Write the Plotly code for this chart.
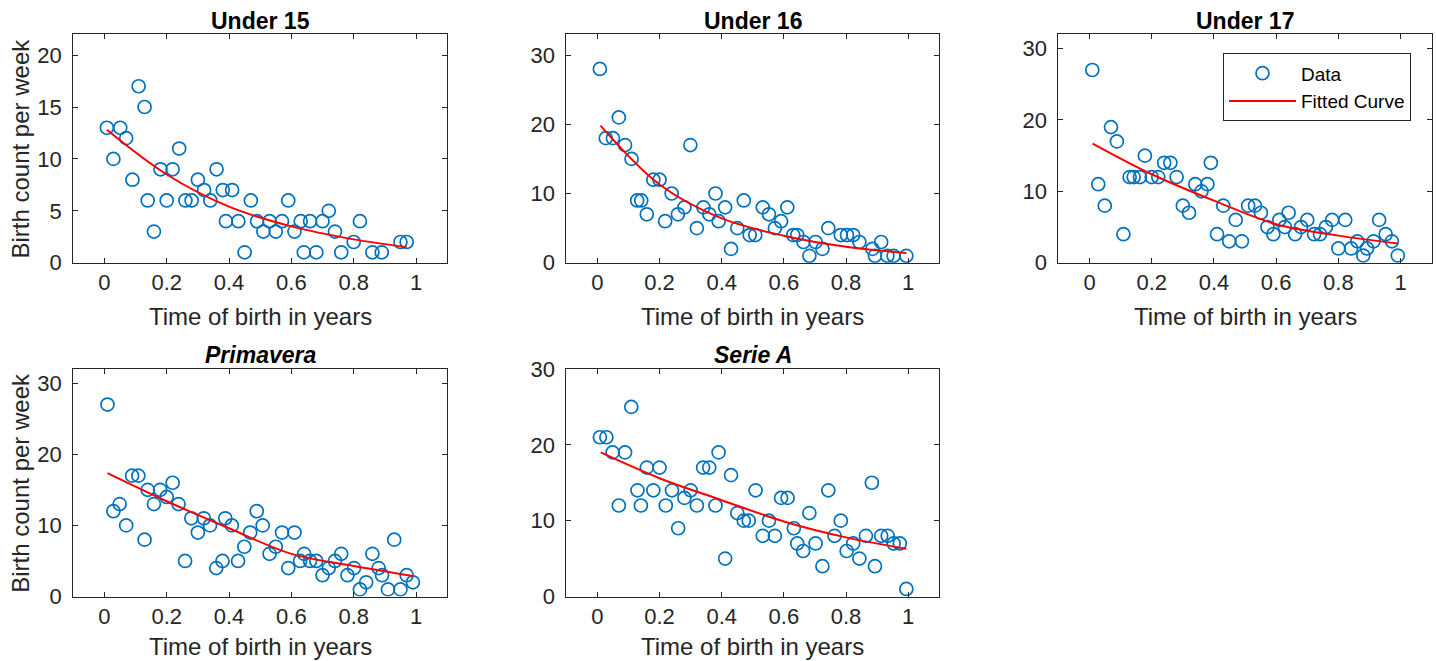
import plotly.graph_objects as go

# ---------------- data ----------------
u15_x = [0.008, 0.029, 0.051, 0.070, 0.090, 0.110, 0.129, 0.139, 0.159, 0.180, 0.200, 0.219,
         0.240, 0.260, 0.280, 0.300, 0.320, 0.340, 0.360, 0.380, 0.390, 0.410, 0.430, 0.450,
         0.470, 0.490, 0.510, 0.530, 0.550, 0.570, 0.590, 0.610, 0.630, 0.640, 0.660, 0.680,
         0.700, 0.720, 0.740, 0.760, 0.800, 0.820, 0.860, 0.890, 0.950, 0.970]
u15_y = [13, 10, 13, 12, 8, 17, 15, 6, 3, 9, 6, 9,
         11, 6, 6, 8, 7, 6, 9, 7, 4, 7, 4, 1,
         6, 4, 3, 4, 3, 4, 6, 3, 4, 1, 4, 1,
         4, 5, 3, 1, 2, 4, 1, 1, 2, 2]
u15_fit_x = [0.008, 0.2, 0.4, 0.6, 0.8, 0.970]
u15_fit_y = [12.8, 8.5, 5.4, 3.5, 2.25, 1.5]

u16_x = [0.008, 0.027, 0.050, 0.069, 0.089, 0.110, 0.128, 0.141, 0.159, 0.180, 0.200, 0.218,
         0.239, 0.259, 0.280, 0.299, 0.320, 0.341, 0.360, 0.380, 0.390, 0.411, 0.430, 0.450,
         0.471, 0.490, 0.508, 0.532, 0.552, 0.571, 0.591, 0.611, 0.630, 0.643, 0.663, 0.682,
         0.702, 0.724, 0.743, 0.783, 0.803, 0.823, 0.843, 0.885, 0.893, 0.913, 0.933, 0.953,
         0.994]
u16_y = [28, 18, 18, 21, 17, 15, 9, 9, 7, 12, 12, 6,
         10, 7, 8, 17, 5, 8, 7, 10, 6, 8, 2, 5,
         9, 4, 4, 8, 7, 5, 6, 8, 4, 4, 3, 1,
         3, 2, 5, 4, 4, 4, 3, 2, 1, 3, 1, 1,
         1]
u16_fit_x = [0.010, 0.2, 0.4, 0.6, 0.8, 0.994]
u16_fit_y = [19.8, 11.3, 6.4, 3.9, 2.3, 1.4]

u17_x = [0.009, 0.028, 0.049, 0.069, 0.088, 0.109, 0.129, 0.142, 0.162, 0.178, 0.200, 0.221,
         0.240, 0.260, 0.280, 0.300, 0.320, 0.340, 0.360, 0.379, 0.390, 0.410, 0.430, 0.449,
         0.470, 0.490, 0.510, 0.532, 0.551, 0.572, 0.591, 0.610, 0.628, 0.640, 0.661, 0.680,
         0.700, 0.722, 0.741, 0.760, 0.780, 0.800, 0.822, 0.841, 0.861, 0.880, 0.892, 0.913,
         0.931, 0.952, 0.972, 0.991]
u17_y = [27, 11, 8, 19, 17, 4, 12, 12, 12, 15, 12, 12,
         14, 14, 12, 8, 7, 11, 10, 11, 14, 4, 8, 3,
         6, 3, 8, 8, 7, 5, 4, 6, 5, 7, 4, 5,
         6, 4, 4, 5, 6, 2, 6, 2, 3, 1, 2, 3,
         6, 4, 3, 1]
u17_fit_x = [0.010, 0.2, 0.4, 0.6, 0.8, 0.991]
u17_fit_y = [16.7, 12.4, 8.7, 5.4, 3.8, 2.7]

pri_x = [0.010, 0.029, 0.049, 0.070, 0.089, 0.109, 0.129, 0.139, 0.159, 0.179, 0.200, 0.219,
         0.238, 0.259, 0.279, 0.300, 0.319, 0.339, 0.359, 0.379, 0.388, 0.409, 0.429, 0.449,
         0.468, 0.489, 0.508, 0.530, 0.550, 0.570, 0.590, 0.610, 0.628, 0.641, 0.660, 0.680,
         0.700, 0.720, 0.740, 0.760, 0.780, 0.801, 0.820, 0.840, 0.860, 0.880, 0.891, 0.910,
         0.930, 0.950, 0.970, 0.990]
pri_y = [27, 12, 13, 10, 17, 17, 8, 15, 13, 15, 14, 16,
         13, 5, 11, 9, 11, 10, 4, 5, 11, 10, 5, 7,
         9, 12, 10, 6, 7, 9, 4, 9, 5, 6, 5, 5,
         3, 4, 5, 6, 3, 4, 1, 2, 6, 4, 3, 1,
         8, 1, 3, 2]
pri_fit_x = [0.010, 0.2, 0.4, 0.6, 0.8, 0.990]
pri_fit_y = [17.35, 13.4, 9.6, 6.0, 4.3, 2.9]

sea_x = [0.008, 0.029, 0.049, 0.069, 0.089, 0.109, 0.129, 0.140, 0.159, 0.180, 0.200, 0.220,
         0.240, 0.260, 0.280, 0.300, 0.320, 0.340, 0.360, 0.380, 0.390, 0.411, 0.430, 0.450,
         0.471, 0.487, 0.509, 0.532, 0.552, 0.571, 0.591, 0.612, 0.632, 0.643, 0.662, 0.682,
         0.702, 0.724, 0.743, 0.763, 0.783, 0.802, 0.823, 0.843, 0.864, 0.883, 0.893, 0.913,
         0.934, 0.953, 0.973, 0.994]
sea_y = [21, 21, 19, 12, 19, 25, 14, 12, 17, 14, 17, 12,
         14, 9, 13, 14, 12, 17, 17, 12, 19, 5, 16, 11,
         10, 10, 14, 8, 10, 8, 13, 13, 9, 7, 6, 11,
         7, 4, 14, 8, 10, 6, 7, 5, 8, 15, 4, 8,
         8, 7, 7, 1]
sea_fit_x = [0.011, 0.2, 0.4, 0.6, 0.8, 0.994]
sea_fit_y = [19.0, 15.6, 12.7, 9.9, 7.8, 6.3]

titles = ["<b>Under 15</b>", "<b>Under 16</b>", "<b>Under 17</b>",
          "<b><i>Primavera</i></b>", "<b><i>Serie A</i></b>"]
y_max = [22, 33, 32, 32, 30]
y_ticks = [[0, 5, 10, 15, 20], [0, 10, 20, 30], [0, 10, 20, 30], [0, 10, 20, 30], [0, 10, 20, 30]]
x_ticks = [0, 0.2, 0.4, 0.6, 0.8, 1]
x_ticktext = ["0", "0.2", "0.4", "0.6", "0.8", "1"]

series = [(u15_x, u15_y, u15_fit_x, u15_fit_y),
          (u16_x, u16_y, u16_fit_x, u16_fit_y),
          (u17_x, u17_y, u17_fit_x, u17_fit_y),
          (pri_x, pri_y, pri_fit_x, pri_fit_y),
          (sea_x, sea_y, sea_fit_x, sea_fit_y)]

# ---------------- layout geometry (page pixels) ----------------
W, H = 1436, 661
col_px = [(73.2, 447.2), (566.3, 939.3), (1058.4, 1431.7)]
row_px = [(23.2, 260.6), (371.0, 607.5)]
xtitle_gap = [56, 52]
positions = [(0, 0), (0, 1), (0, 2), (1, 0), (1, 1)]

FONT = "Arial, 'Liberation Sans', Helvetica, sans-serif"
AX = "#262626"
BLUE = "#0072BD"

fig = go.Figure()
layout = dict(width=W, height=H, margin=dict(l=0, r=0, t=0, b=0),
              paper_bgcolor="white", plot_bgcolor="white",
              font=dict(family=FONT, color=AX), annotations=[])

for i, ((r, c), (xs, ys, fx, fy)) in enumerate(zip(positions, series)):
    k = "" if i == 0 else str(i + 1)
    xa, ya = "x" + k, "y" + k
    show = (i == 2)
    fig.add_trace(go.Scatter(x=xs, y=ys, mode="markers", name="Data", showlegend=show,
                             marker=dict(symbol="circle-open", size=13, color=BLUE,
                                         line=dict(width=1.7, color=BLUE)),
                             xaxis=xa, yaxis=ya))
    fig.add_trace(go.Scatter(x=fx, y=fy, mode="lines", name="Fitted Curve", showlegend=show,
                             line=dict(color="#FF0000", width=2, shape="spline", smoothing=1.0),
                             xaxis=xa, yaxis=ya))
    x0, x1 = col_px[c]
    y0, y1 = row_px[r]
    common = dict(showline=True, linecolor=AX, linewidth=1, mirror="ticks", ticks="inside",
                  ticklen=5, tickwidth=1, tickcolor=AX, showgrid=False, zeroline=False,
                  tickfont=dict(family=FONT, size=22, color=AX))
    layout["xaxis" + k] = dict(domain=[x0 / W, x1 / W], anchor=ya, range=[-0.1, 1.1],
                               tickvals=x_ticks, ticktext=x_ticktext, ticklabelstandoff=0,
                               **common)
    layout["yaxis" + k] = dict(domain=[1 - y1 / H, 1 - y0 / H], anchor=xa,
                               range=[0, y_max[i]], tickvals=y_ticks[i],
                               ticklabelstandoff=6, **common)
    cx = (x0 + x1) / 2
    # subplot title
    layout["annotations"].append(dict(text=titles[i], x=cx / W, y=1 - (y0 - 14) / H,
                                      xref="paper", yref="paper", showarrow=False,
                                      xanchor="center", yanchor="middle",
                                      font=dict(family=FONT, size=23, color="black")))
    # x-axis title
    layout["annotations"].append(dict(text="Time of birth in years", x=cx / W,
                                      y=1 - (y1 + xtitle_gap[r]) / H, xref="paper",
                                      yref="paper", showarrow=False, xanchor="center",
                                      yanchor="middle",
                                      font=dict(family=FONT, size=24, color=AX)))
    if c == 0:
        layout["annotations"].append(dict(text="Birth count per week", x=21 / W,
                                          y=1 - ((y0 + y1) / 2) / H, xref="paper",
                                          yref="paper", showarrow=False, textangle=-90,
                                          xanchor="center", yanchor="middle",
                                          font=dict(family=FONT, size=24, color=AX)))

layout["legend"] = dict(x=1411 / W, xanchor="right", y=1 - 43 / H, yanchor="top",
                        bgcolor="white", bordercolor=AX, borderwidth=1, itemwidth=67,
                        font=dict(family=FONT, size=19, color="black"))
fig.update_layout(**layout)
fig.write_html("out.html", config={"displayModeBar": False},
               post_script="document.body.style.margin='0';"
                           "document.body.style.overflow='hidden';")
